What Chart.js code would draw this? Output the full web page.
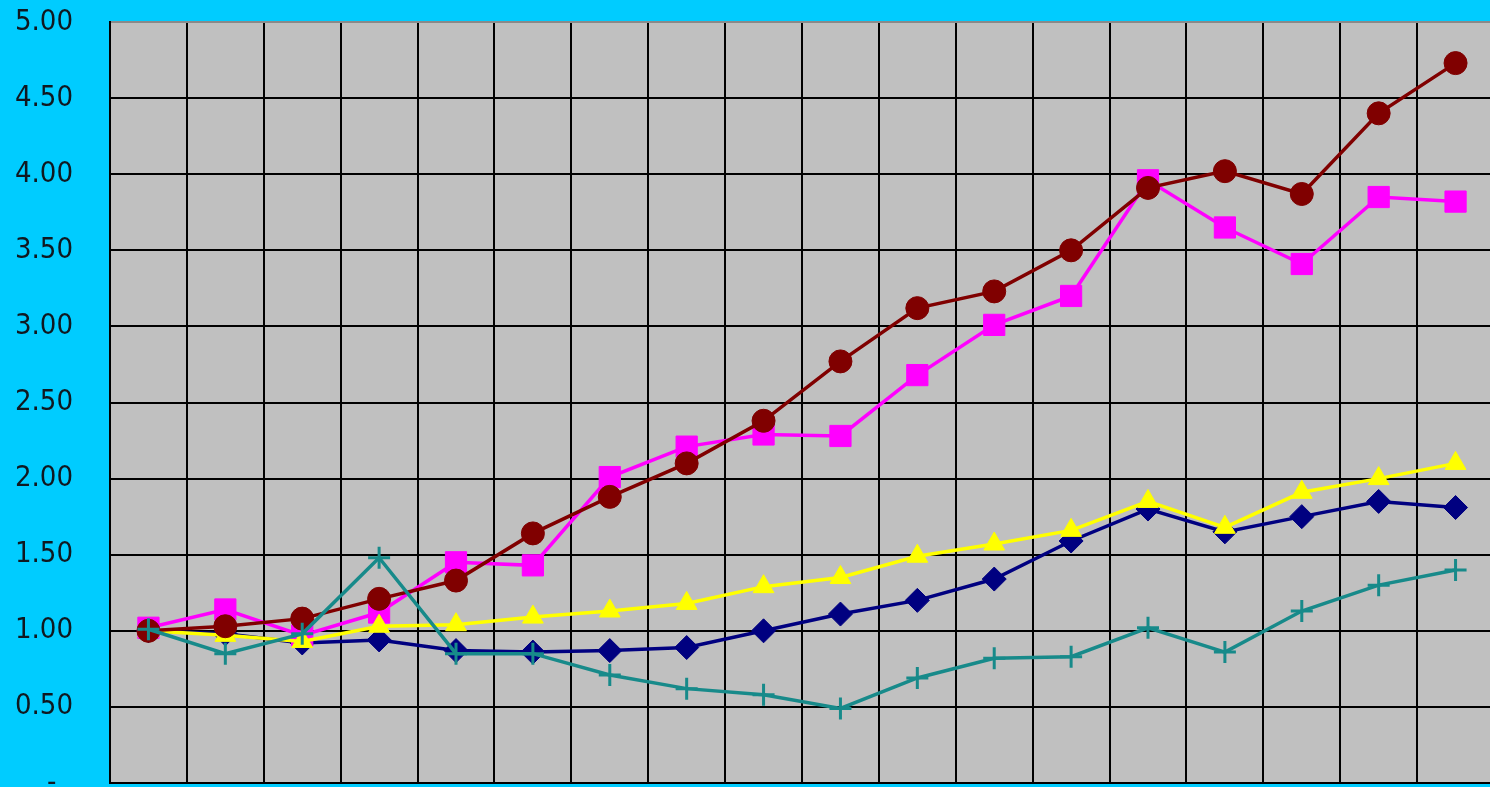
<!DOCTYPE html>
<html>
<head>
<meta charset="utf-8">
<script src="https://cdn.jsdelivr.net/npm/chart.js@4"></script>
<style>
  html, body { margin: 0; padding: 0; background: #00CCFF; overflow: hidden; }
  canvas { display: block; }
</style>
</head>
<body>
<canvas id="c" width="1494" height="787"></canvas>
<script>
// Eighteen periods, indexed values (start = 1.00)
const categories = ['1','2','3','4','5','6','7','8','9','10','11','12','13','14','15','16','17','18'];

const navySeries    = [1.00, 0.98, 0.92, 0.94, 0.87, 0.86, 0.87, 0.89, 1.00, 1.11, 1.20, 1.34, 1.59, 1.80, 1.65, 1.75, 1.85, 1.81];
const magentaSeries = [1.02, 1.14, 0.97, 1.12, 1.45, 1.43, 2.01, 2.21, 2.29, 2.28, 2.68, 3.01, 3.20, 3.96, 3.65, 3.41, 3.85, 3.82];
const yellowSeries  = [1.00, 0.97, 0.93, 1.03, 1.04, 1.09, 1.13, 1.18, 1.29, 1.35, 1.49, 1.57, 1.66, 1.85, 1.68, 1.91, 2.00, 2.10];
const tealSeries    = [1.01, 0.85, 0.98, 1.48, 0.85, 0.85, 0.71, 0.62, 0.58, 0.49, 0.69, 0.82, 0.83, 1.02, 0.86, 1.13, 1.30, 1.40];
const maroonSeries  = [1.00, 1.03, 1.08, 1.21, 1.33, 1.64, 1.88, 2.10, 2.38, 2.77, 3.12, 3.23, 3.50, 3.91, 4.02, 3.87, 4.40, 4.73];

const yTickValues = [0, 0.5, 1, 1.5, 2, 2.5, 3, 3.5, 4, 4.5, 5];

// Grey plot area behind the grid
const plotBackground = {
  id: 'plotBackground',
  beforeDraw(chart) {
    const { ctx, chartArea: a } = chart;
    ctx.save();
    ctx.fillStyle = '#C0C0C0';
    ctx.fillRect(a.left, a.top, a.right - a.left, a.bottom - a.top);
    ctx.restore();
  }
};

function series(label, data, color, style, radius, order, width) {
  return {
    label, data, order,
    borderColor: color,
    backgroundColor: color,
    borderWidth: width,
    pointStyle: style,
    pointRadius: radius,
    pointHoverRadius: radius,
    pointBorderColor: color,
    pointBackgroundColor: color,
    pointBorderWidth: style === 'cross' ? 3 : 1,
    tension: 0
  };
}

new Chart(document.getElementById('c'), {
  type: 'line',
  data: {
    labels: categories,
    datasets: [
      series('A', navySeries,    '#000080', 'rectRot',  12, 5, 3.5),
      series('B', magentaSeries, '#FF00FF', 'rect',     15, 4, 3.5),
      series('C', yellowSeries,  '#FFFF00', 'triangle', 12, 3, 3.5),
      series('D', maroonSeries,  '#800000', 'circle',   11.5, 2, 3.5),
      series('E', tealSeries,    '#178a8a', 'cross',    11, 1, 3.5)
    ]
  },
  options: {
    responsive: false,
    animation: false,
    layout: { autoPadding: false, padding: { top: 22, bottom: 4, left: 0, right: 0 } },
    plugins: { legend: { display: false }, tooltip: { enabled: false } },
    scales: {
      x: {
        offset: true,
        grid: { offset: true, color: '#000000', lineWidth: 2, drawTicks: false },
        border: { color: '#000000', width: 2 },
        ticks: { display: false }
      },
      y: {
        min: 0,
        max: 5,
        afterBuildTicks(scale) { scale.ticks = yTickValues.map(v => ({ value: v })); },
        afterFit(scale) {
          scale.width = 110;
          scale.paddingTop = 0;
          scale.paddingBottom = 0;
        },
        grid: {
          drawTicks: true,
          tickLength: 37,
          tickColor: 'rgba(0,0,0,0)',
          lineWidth: 2,
          color: ctx => (ctx.tick && ctx.tick.value === 5 ? '#8a8a8a' : '#000000')
        },
        border: { color: '#000000', width: 2 },
        ticks: {
          padding: 0,
          color: '#101820',
          font: { family: "'DejaVu Sans Condensed', 'DejaVu Sans', sans-serif", size: 29 },
          callback: v => (v === 0 ? '-  ' : Number(v).toFixed(2))
        }
      }
    }
  },
  plugins: [plotBackground]
});
</script>
</body>
</html>
